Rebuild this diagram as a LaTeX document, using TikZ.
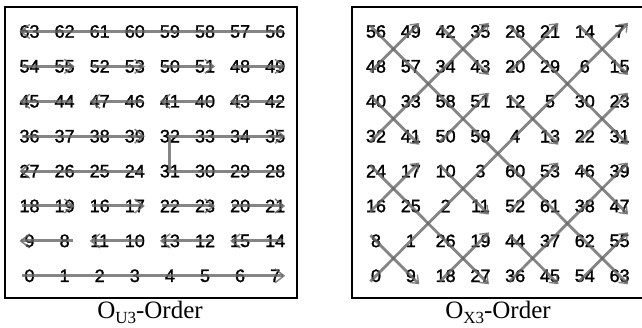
\documentclass[tikz,border=0pt]{standalone}
\usepackage{fontspec}
\setmainfont{Liberation Serif}
\newfontfamily\cellfont[FakeBold=1.6]{Liberation Sans}
\usetikzlibrary{arrows.meta}
\tikzset{
  cellnum/.style={font=\cellfont\fontsize{18}{18}\selectfont, inner sep=0pt},
  captext/.style={font=\rmfamily\fontsize{25}{25}\selectfont, inner sep=0pt, anchor=base},
  ulink/.style={->, draw=black!60, line width=3pt, opacity=0.8,
    shorten <=-8pt, shorten >=-10pt},
  xlink/.style={-{Straight Barb[length=7pt, width=11pt, line width=1.4pt]},
    draw=black!60, line width=2.8pt, opacity=0.8,
    shorten <=-8pt, shorten >=-12pt},
}
\begin{document}
\begin{tikzpicture}[x=1pt, y=-1pt, >={Straight Barb[length=9pt, width=14pt, line width=1.5pt]}]
  % 8x8 の順序 (行は上から): 左 O_U3, 右 O_X3
  \useasboundingbox (0,0) rectangle (642,328);
  \draw[line width=2.5pt] (5,7) rectangle (297,298);
  \draw[line width=2.5pt] (352,7) rectangle (648,298);
  \foreach \row [count=\i from 0] in {{63,62,61,60,59,58,57,56},{54,55,52,53,50,51,48,49},
      {45,44,47,46,41,40,43,42},{36,37,38,39,32,33,34,35},{27,26,25,24,31,30,29,28},
      {18,19,16,17,22,23,20,21},{9,8,11,10,13,12,15,14},{0,1,2,3,4,5,6,7}}
    \foreach \v [count=\j from 0] in \row
      \node[cellnum] (u\v) at (29.5+35.1*\j, 31.5+34.9*\i) {\v};
  \foreach \row [count=\i from 0] in {{56,49,42,35,28,21,14,7},{48,57,34,43,20,29,6,15},
      {40,33,58,51,12,5,30,23},{32,41,50,59,4,13,22,31},{24,17,10,3,60,53,46,39},
      {16,25,2,11,52,61,38,47},{8,1,26,19,44,37,62,55},{0,9,18,27,36,45,54,63}}
    \foreach \v [count=\j from 0] in \row
      \node[cellnum] (x\v) at (376+34.8*\j, 31.5+34.9*\i) {\v};
  % 左
  \draw[ulink] (u0.center) -- (u7.center);
  \draw[ulink] (u24.center) -- (u27.center);
  \draw[ulink] (u28.center) -- (u31.center) -- (u32.center) -- (u35.center);
  \draw[ulink] (u36.center) -- (u39.center);
  \draw[ulink] (u56.center) -- (u63.center);
  \foreach \a/\b in {8/9,10/11,12/13,14/15,16/17,18/19,20/21,22/23,
      40/41,42/43,44/45,46/47,48/49,50/51,52/53,54/55}
    \draw[ulink] (u\a.center) -- (u\b.center);
  % 右
  \foreach \a/\b in {0/7,24/27,28/31,32/35,36/39,56/63,8/9,10/11,12/13,14/15,16/17,
      18/19,20/21,22/23,40/41,42/43,44/45,46/47,48/49,50/51,52/53,54/55}
    \draw[xlink] (x\a.center) -- (x\b.center);
  \node[captext] (ucap) at (150,319) {O\raisebox{-5pt}{\fontsize{17}{17}\selectfont U3}-Order};
  \node[captext] (xcap) at (498,319) {O\raisebox{-5pt}{\fontsize{17}{17}\selectfont X3}-Order};
\end{tikzpicture}
\end{document}
